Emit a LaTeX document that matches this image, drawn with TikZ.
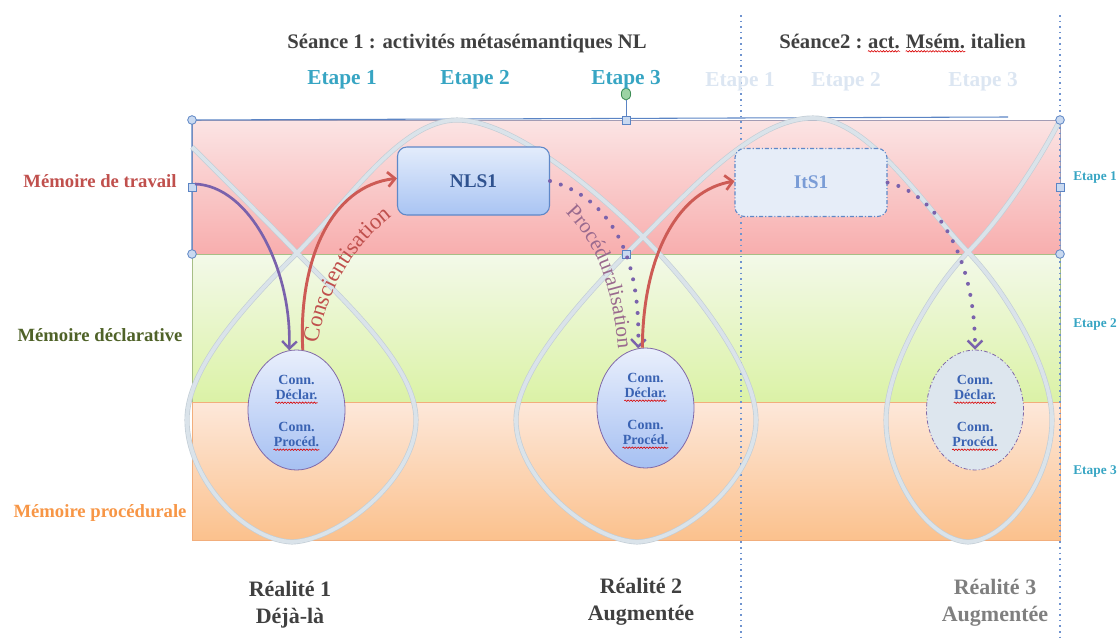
\documentclass[tikz,border=0pt]{standalone}
\usepackage{fontspec}
\setmainfont{Liberation Serif}
\usetikzlibrary{arrows.meta,decorations.pathmorphing,decorations.text,shapes.geometric}

\definecolor{bandRtop}{HTML}{FBE4E4}
\definecolor{bandRbot}{HTML}{F8AEAE}
\definecolor{bandRdraw}{HTML}{A39CB4}
\definecolor{bandGtop}{HTML}{F3F9E9}
\definecolor{bandGbot}{HTML}{DBF2A6}
\definecolor{bandGdraw}{HTML}{A7BE86}
\definecolor{bandOtop}{HTML}{FDE8DA}
\definecolor{bandObot}{HTML}{FBC18D}
\definecolor{bandOdraw}{HTML}{F2AE7C}
\definecolor{wave}{HTML}{DAE3EA}
\definecolor{waveEdge}{HTML}{C3CED6}
\definecolor{handleFill}{HTML}{C9D9F0}
\definecolor{handleDraw}{HTML}{5B84C4}
\definecolor{stepTeal}{HTML}{37A5C3}
\definecolor{stepFaded}{HTML}{DCE6F2}
\definecolor{darkText}{HTML}{404040}
\definecolor{greyText}{HTML}{7F7F7F}
\definecolor{memRed}{HTML}{C0504D}
\definecolor{memGreen}{HTML}{4F6228}
\definecolor{memOrange}{HTML}{F79646}
\definecolor{arrowRed}{HTML}{CD5B55}
\definecolor{arrowPurple}{HTML}{7A62AC}
\definecolor{connBlue}{HTML}{3A63B3}
\definecolor{boxTop}{HTML}{E3ECFB}
\definecolor{boxBot}{HTML}{A9C4F3}
\definecolor{boxDraw}{HTML}{5F88C8}
\definecolor{itsFill}{HTML}{E6EDF8}
\definecolor{itsText}{HTML}{7A9CD6}
\definecolor{nlsText}{HTML}{2F528F}
\definecolor{ellTop}{HTML}{E9EFFC}
\definecolor{ellBot}{HTML}{A6C0F2}
\definecolor{ellDraw}{HTML}{8068A8}
\definecolor{ell3Fill}{HTML}{DDE6EE}
\definecolor{procText}{HTML}{9A6A8E}
\definecolor{guide}{HTML}{6F93CF}
\definecolor{rotHandle}{HTML}{9CD3A4}
\definecolor{rotDraw}{HTML}{3E8E55}

\tikzset{
  waveline/.style={draw=waveEdge, line width=0.5pt, double=wave, double distance=2.8pt},
  guideline/.style={draw=guide, line width=1.1pt, dash pattern=on 1.2pt off 3pt},
  hcirc/.style={circle, draw=handleDraw, fill=handleFill, line width=0.6pt, minimum size=6.5pt, inner sep=0pt},
  hsq/.style={rectangle, draw=handleDraw, fill=handleFill, line width=0.6pt, minimum size=6pt, inner sep=0pt},
  title/.style={font=\bfseries\fontsize{15.5pt}{18pt}\selectfont, text=darkText, inner sep=0pt},
  topstep/.style={font=\bfseries\fontsize{16pt}{19pt}\selectfont, text=stepTeal},
  fadedstep/.style={font=\bfseries\fontsize{16pt}{19pt}\selectfont, text=stepFaded},
  sidestep/.style={font=\bfseries\fontsize{10pt}{12pt}\selectfont, text=stepTeal},
  memlabel/.style={font=\bfseries\fontsize{14pt}{16pt}\selectfont},
  reality/.style={font=\bfseries\fontsize{16.5pt}{20pt}\selectfont, align=center},
  conn/.style={ellipse, draw=ellDraw, line width=0.6pt, inner sep=0pt,
               minimum width=72.75pt, minimum height=90pt},
  conntxt/.style={font=\bfseries\fontsize{10.5pt}{12pt}\selectfont, text=connBlue, inner sep=0pt},
  wavyline/.style={draw=red!85!black, line width=0.45pt, decorate,
                   decoration={snake, amplitude=0.55pt, segment length=2.2pt}},
  notion/.style={rectangle, rounded corners=7pt, line width=0.8pt, draw=boxDraw,
                 minimum width=114pt, minimum height=51pt,
                 font=\bfseries\fontsize{14.5pt}{16pt}\selectfont},
  redarrow/.style={draw=arrowRed, line width=2.2pt,
                   -{Straight Barb[length=5.5pt,width=11pt,line width=2pt]}},
  purplearrow/.style={draw=arrowPurple, line width=2pt,
                   -{Straight Barb[length=5.5pt,width=11pt,line width=1.8pt]}},
  dottedarrow/.style={draw=arrowPurple, line width=3pt, line cap=round,
                   dash pattern=on 0pt off 8.5pt,
                   -{Straight Barb[length=5.5pt,width=11pt,line width=1.8pt]}},
  conntext/.pic={
    \node[conntxt] (-a) at (0,-30) {Conn.};
    \node[conntxt] (-b) at (0,-15) {Déclar.};
    \node[conntxt] (-c) at (0,17) {Conn.};
    \node[conntxt] (-d) at (0,32) {Procéd.};
    \draw[wavyline] ([yshift=-2.2pt]-b.base west) -- ([yshift=-2.2pt]-b.base east);
    \draw[wavyline] ([yshift=-2.2pt]-d.base west) -- ([yshift=-2.2pt]-d.base east);
  }
}

\begin{document}
\begin{tikzpicture}[x=0.75pt,y=-0.75pt]
\useasboundingbox (0,0) rectangle (1118,639);

% memory bands
\path[draw=bandRdraw, line width=0.7pt, top color=bandRtop, bottom color=bandRbot] (192,120) rectangle (1060,254);
\path[draw=bandGdraw, line width=0.7pt, top color=bandGtop, bottom color=bandGbot] (192,254) rectangle (1060,402);
\path[draw=bandOdraw, line width=0.7pt, top color=bandOtop, bottom color=bandObot] (192,402) rectangle (1060,540);
\draw[handleDraw, line width=0.8pt] (192,254) -- (192,120) -- (1008,117);

% session separators
\draw[guideline] (741,15) -- (741,639);
\draw[guideline] (1060,15) -- (1060,639);

% loops of the learning cycle
\draw[waveline] (192,147) .. controls (240,195) and (270,225) .. (297,253)
  .. controls (350,306) and (416,368) .. (416,420)
  .. controls (416,478) and (340,540) .. (292,542)
  .. controls (244,540) and (187,478) .. (187,420)
  .. controls (187,368) and (245,305) .. (297,253)
  .. controls (345,205) and (400,120) .. (457,120)
  .. controls (512,120) and (596,190) .. (643,237)
  .. controls (693,287) and (756,368) .. (756,420)
  .. controls (756,478) and (685,540) .. (637,542)
  .. controls (589,540) and (516,478) .. (516,420)
  .. controls (516,368) and (593,287) .. (643,237)
  .. controls (690,190) and (755,118) .. (813,118)
  .. controls (870,118) and (930,214) .. (968,252)
  .. controls (1005,290) and (1052,368) .. (1052,420)
  .. controls (1052,478) and (1008,540) .. (968,542)
  .. controls (928,540) and (886,478) .. (886,420)
  .. controls (886,368) and (931,290) .. (968,252)
  .. controls (1000,220) and (1040,160) .. (1060,120);

% selection handles
\node[hcirc] (h1) at (192,120) {};
\node[hsq]   (h2) at (192,187) {};
\node[hcirc] (h3) at (192,254) {};
\node[hsq]   (h4) at (626,120) {};
\node[hsq]   (h5) at (626,254) {};
\node[hcirc] (h6) at (1060,120) {};
\node[hsq]   (h7) at (1060,187) {};
\node[hcirc] (h8) at (1060,254) {};
\node[ellipse, draw=rotDraw, fill=rotHandle, line width=0.6pt, minimum width=7pt, minimum height=9pt, inner sep=0pt] (rot) at (626,94) {};
\draw[handleDraw, line width=0.5pt] (rot) -- (h4);

% knowledge states
\node[conn, top color=ellTop, bottom color=ellBot] (e1) at (296.5,410) {};
\node[conn, top color=ellTop, bottom color=ellBot] (e2) at (645.5,408) {};
\node[conn, fill=ell3Fill, dash pattern=on 3pt off 1.5pt on 0.8pt off 1.5pt] (e3) at (975,410) {};
\pic (k1) at (296.5,410) {conntext};
\pic (k2) at (645.5,408) {conntext};
\pic (k3) at (975,410) {conntext};

% notions
\node[notion, top color=boxTop, bottom color=boxBot, text=nlsText] (nls) at (473.5,181) {NLS1};
\node[notion, fill=itsFill, text=itsText, dash pattern=on 3pt off 1.5pt on 0.8pt off 1.5pt] (its) at (811,182.5) {ItS1};

% transitions
\coordinate (wm) at (195,184);
\draw[purplearrow] (wm) .. controls (250,186) and (292,270) .. (e1.97);
\draw[redarrow] (e1.84) .. controls (298,262) and (330,186) .. ([yshift=2pt]nls.west);
\draw[dottedarrow] (nls.east) .. controls (600,195) and (641,240) .. (e2.97);
\draw[redarrow] (e2.93) .. controls (643,252) and (680,190) .. ([yshift=1pt]its.west);
\draw[dottedarrow] (its.east) .. controls (940,195) and (975,262) .. (e3.north);

% labels of the transitions
\path[decorate, decoration={text along path, text align=center,
      text={|\fontsize{17pt}{17pt}\selectfont\color{memRed}|Conscientisation}}]
  (314,368) .. controls (322,292) and (352,242) .. (412,202);
\path[decorate, decoration={text along path, text align=center,
      text={|\fontsize{16pt}{16pt}\selectfont\color{procText}|Procéduralisation}}]
  (543,194) .. controls (596,232) and (616,285) .. (620,378);

% headings
\node[title, anchor=base] (s1) at (467,48) {Séance 1 : activités métasémantiques NL};
\node[title, anchor=base west] (s2a) at (779,48) {Séance2 :\ \null};
\node[title, anchor=base west] (s2b) at (s2a.base east) {act.};
\node[title, anchor=base west] (s2c) at (s2b.base east) {\null\ \null};
\node[title, anchor=base west] (s2d) at (s2c.base east) {Msém.};
\node[title, anchor=base west] (s2e) at (s2d.base east) {\null\ italien};
\draw[wavyline] ([yshift=-2.5pt]s2b.base west) -- ([yshift=-2.5pt]s2b.base east);
\draw[wavyline] ([yshift=-2.5pt]s2d.base west) -- ([yshift=-2.5pt]s2d.base east);

\node[topstep] (t1) at (342,80) {Etape 1};
\node[topstep] (t2) at (475,80) {Etape 2};
\node[topstep] (t3) at (626,80) {Etape 3};
\node[fadedstep] (f1) at (740,82) {Etape 1};
\node[fadedstep] (f2) at (846,82) {Etape 2};
\node[fadedstep] (f3) at (983,82) {Etape 3};

\node[sidestep] (r1) at (1095,178) {Etape 1};
\node[sidestep] (r2) at (1095,325) {Etape 2};
\node[sidestep] (r3) at (1095,472) {Etape 3};

\node[memlabel, text=memRed] (m1) at (100,181) {Mémoire de travail};
\node[memlabel, text=memGreen] (m2) at (100,335) {Mémoire déclarative};
\node[memlabel, text=memOrange] (m3) at (100,513) {Mémoire procédurale};

\node[reality, text=darkText] (re1) at (290,605) {Réalité 1\\Déjà-là};
\node[reality, text=darkText] (re2) at (641,602) {Réalité 2\\Augmentée};
\node[reality, text=greyText] (re3) at (995,603) {Réalité 3\\Augmentée};
\end{tikzpicture}
\end{document}
